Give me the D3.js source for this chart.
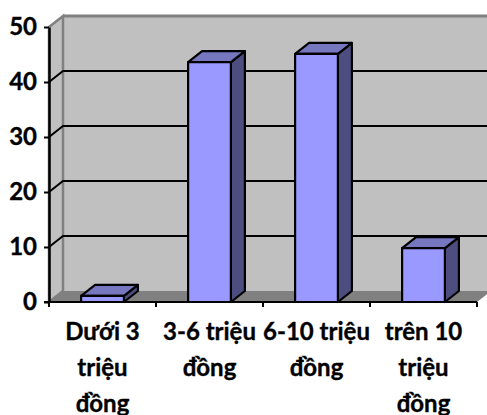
<!DOCTYPE html>
<html>
<head>
<meta charset="utf-8">
<script src="https://cdn.jsdelivr.net/npm/d3@7"></script>
<style>
  html, body { margin: 0; padding: 0; background: #fff; }
  svg { display: block; }
  text { font-family: Lato, "Open Sans", sans-serif; font-weight: 700; fill: #000; stroke: #000; stroke-width: 0.35px; }
</style>
</head>
<body>
<script>
'use strict';

const categories = ["Dưới 3 triệu đồng", "3-6 triệu đồng", "6-10 triệu đồng", "trên 10 triệu đồng"];
const categoryLines = [["Dưới 3", "triệu", "đồng"], ["3-6 triệu", "đồng"], ["6-10 triệu", "đồng"], ["trên 10", "triệu", "đồng"]];
const values = [1.1, 43.6, 45.1, 9.8];
const yTicks = [0, 10, 20, 30, 40, 50];

const width = 487, height = 415;
// depth of the fake 3d box
const dx = 14, dy = 11;

const x = d3.scaleBand().domain(categories).range([49, 477]).paddingInner(0.6).paddingOuter(0.3);
const y = d3.scaleLinear().domain([0, 50]).range([302, 27]);

const svg = d3.select("body").append("svg")
    .attr("width", width)
    .attr("height", height);

const poly = pts => pts.map(p => p.join(",")).join(" ");
const x0 = x.range()[0], x1 = x.range()[1];

// back wall and side wall
svg.append("polygon")
    .attr("points", poly([[x0 + dx, y(50) - dy], [x1 + dx, y(50) - dy], [x1 + dx, y(0) - dy], [x0 + dx, y(0) - dy]]))
    .style("fill", "#c0c0c0");
svg.append("polygon")
    .attr("points", poly([[x0, y(50)], [x0 + dx, y(50) - dy], [x0 + dx, y(0) - dy], [x0, y(0)]]))
    .style("fill", "#c0c0c0")
    .style("stroke", "#808080")
    .style("stroke-width", 2.5);
svg.append("line")
    .attr("x1", x0 + dx).attr("x2", x1 + dx)
    .attr("y1", y(50) - dy).attr("y2", y(50) - dy)
    .style("stroke", "#808080")
    .style("stroke-width", 3);

// floor
svg.append("polygon")
    .attr("points", poly([[x0, y(0)], [x0 + dx, y(0) - dy], [x1 + dx, y(0) - dy], [x1, y(0)]]))
    .style("fill", "#808080");

// gridlines, running up the side wall then along the back
svg.selectAll(".grid")
    .data(yTicks.filter(d => d > 0 && d < 50))
    .enter()
    .append("polyline")
    .attr("class", "grid")
    .attr("points", d => poly([[x0, y(d)], [x0 + dx, y(d) - dy], [x1 + dx, y(d) - dy]]))
    .style("fill", "none")
    .style("stroke", "#000")
    .style("stroke-width", 2);

// bars
const bars = svg.selectAll(".bar")
    .data(categories.map((c, i) => ({c: c, v: values[i]})))
    .enter()
    .append("g")
    .attr("class", "bar")
    .style("stroke", "#000")
    .style("stroke-width", 2.2)
    .style("stroke-linejoin", "round");

const bw = x.bandwidth();
bars.append("polygon")
    .attr("points", d => {
        let l = x(d.c) + bw;
        return poly([[l, y(d.v)], [l + dx, y(d.v) - dy], [l + dx, y(0) - dy], [l, y(0)]]);
    })
    .style("fill", "#4d4d80");
bars.append("polygon")
    .attr("points", d => {
        let l = x(d.c);
        return poly([[l, y(d.v)], [l + dx, y(d.v) - dy], [l + bw + dx, y(d.v) - dy], [l + bw, y(d.v)]]);
    })
    .style("fill", "#7777c0");
bars.append("rect")
    .attr("x", d => x(d.c))
    .attr("y", d => y(d.v))
    .attr("width", bw)
    .attr("height", d => y(0) - y(d.v))
    .style("fill", "#9999ff");

// y axis
const yAxis = d3.axisLeft(y).tickValues(yTicks).tickSize(5).tickPadding(7).tickSizeOuter(0);
const gy = svg.append("g")
    .attr("transform", "translate(" + x0 + ",0)")
    .call(yAxis);
gy.select(".domain").style("stroke", "#000").style("stroke-width", 2.5);
gy.selectAll(".tick line").style("stroke", "#000").style("stroke-width", 2);
gy.selectAll(".tick text").style("font-size", "24px").style("font-family", null);

// x axis, ticks sit between the bands
const step = x.step();
svg.append("line")
    .attr("x1", x0 - 5).attr("x2", x1)
    .attr("y1", y(0)).attr("y2", y(0))
    .style("stroke", "#000")
    .style("stroke-width", 2.2);
svg.selectAll(".xtick")
    .data(d3.range(categories.length + 1))
    .enter()
    .append("line")
    .attr("class", "xtick")
    .attr("x1", i => x0 + i * step)
    .attr("x2", i => x0 + i * step)
    .attr("y1", y(0))
    .attr("y2", y(0) + 5)
    .style("stroke", "#000")
    .style("stroke-width", 2);

// category labels
const labels = svg.selectAll(".xlabel")
    .data(categories)
    .enter()
    .append("text")
    .attr("class", "xlabel")
    .attr("text-anchor", "middle")
    .style("font-size", "24px");
labels.selectAll("tspan")
    .data((d, i) => categoryLines[i].map(s => ({s: s, c: d})))
    .enter()
    .append("tspan")
    .attr("x", d => x(d.c) + bw / 2)
    .attr("y", (d, i) => 340 + i * 36)
    .text(d => d.s);
</script>
</body>
</html>
